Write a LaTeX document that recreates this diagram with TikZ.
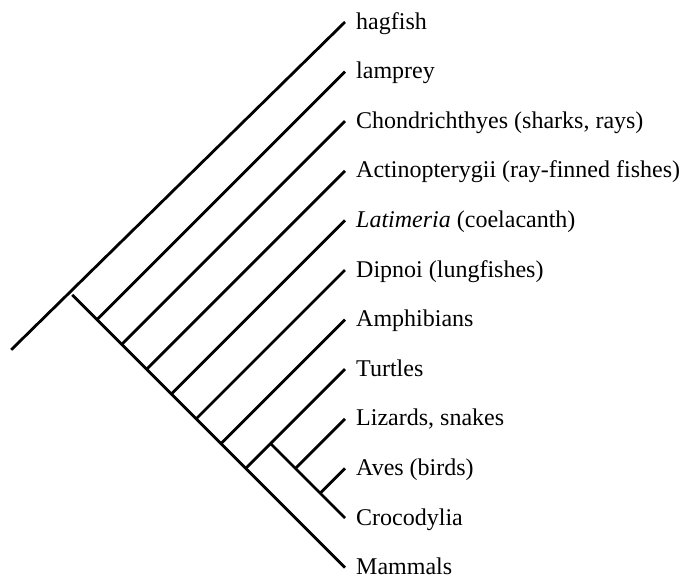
\documentclass[tikz,border=0pt]{standalone}
\usepackage{fontspec}
\setmainfont{Liberation Serif}
\usetikzlibrary{positioning, calc}

\begin{document}
\begin{tikzpicture}[x=1pt, y=-1pt, branch/.style={draw, line width=2.8pt},
    taxon/.style={anchor=base west, inner sep=0pt, font=\fontsize{24}{26}\selectfont}]
  \useasboundingbox (0,0) rectangle (682,582);
  % leaves and their names
  \foreach \lab [count=\i] in {hagfish, lamprey, {Chondrichthyes (sharks, rays)},
      {Actinopterygii (ray-finned fishes)}, {\textit{Latimeria} (coelacanth)},
      {Dipnoi (lungfishes)}, Amphibians, Turtles, {Lizards, snakes},
      {Aves (birds)}, Crocodylia, Mammals}{
    \coordinate (t\i) at (345, {22+49.6*(\i-1)});
    \node[taxon] (l\i) at ($(t\i)+(11,7)$) {\lab};
  }
  % internal nodes
  \foreach \i in {1,...,8}
    \coordinate (n\i) at ($(t\i)!0.7071!-45:(t12)$);
  \coordinate (n9) at ($(t8)!0.7071!-45:(t11)$);
  \coordinate (n10) at ($(t9)!0.7071!-45:(t11)$);
  \coordinate (n11) at ($(t10)!0.7071!-45:(t11)$);
  \coordinate (root) at ($(n1)+(-61,55)$);

  \draw[branch] (root) -- (t1);
  \draw[branch] (n1) -- (t12);
  \foreach \i in {2,...,7}
    \draw[branch] (n\i) -- (t\i);
  \draw[branch] (n8) -- (t8);
  \draw[branch] (n9) -- (t11);
  \draw[branch] (n10) -- (t9);
  \draw[branch] (n11) -- (t10);
\end{tikzpicture}
\end{document}
